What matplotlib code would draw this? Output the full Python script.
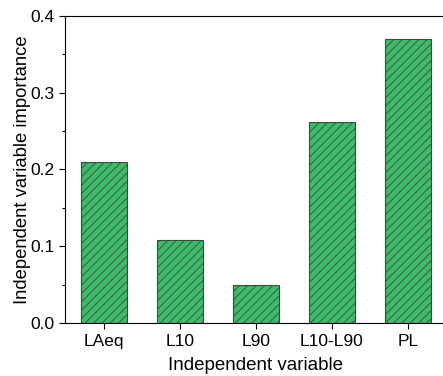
import matplotlib
matplotlib.use('Agg')
import matplotlib.pyplot as plt
from matplotlib.ticker import MultipleLocator

plt.rcParams['font.family'] = ['Liberation Sans', 'DejaVu Sans']
plt.rcParams['hatch.color'] = '#1f5a33'
plt.rcParams['hatch.linewidth'] = 0.6

categories = ['LAeq', 'L10', 'L90', 'L10-L90', 'PL']
importance = [0.21, 0.108, 0.05, 0.262, 0.37]

fig = plt.figure(figsize=(4.43, 3.76), dpi=100)
ax = fig.add_axes([65 / 443, 1 - 323 / 376, (446 - 65) / 443, (323 - 16) / 376])

pos = list(range(len(categories)))
ax.bar(pos, importance, width=0.6, color='#3cbc6a', edgecolor='#444444',
       linewidth=0.8, hatch='////')

ax.set_xlim(-0.51, 4.5)
ax.set_ylim(0, 0.4)
ax.set_xticks(pos)
ax.set_xticklabels(categories)
ax.yaxis.set_major_locator(MultipleLocator(0.1))
ax.yaxis.set_minor_locator(MultipleLocator(0.05))
ax.tick_params(axis='both', labelsize=12.5, direction='out', length=4, width=0.8)
ax.tick_params(axis='x', pad=4)
ax.tick_params(axis='y', which='minor', direction='out', length=2.5, width=0.8)
ax.spines['right'].set_visible(False)
for s in ['left', 'top', 'bottom']:
    ax.spines[s].set_linewidth(0.8)

ax.set_xlabel('Independent variable', fontsize=13.5, labelpad=5.5)
ax.set_ylabel('Independent variable importance', fontsize=13.3, labelpad=-0.5)

fig.savefig('out.png', dpi=100)
